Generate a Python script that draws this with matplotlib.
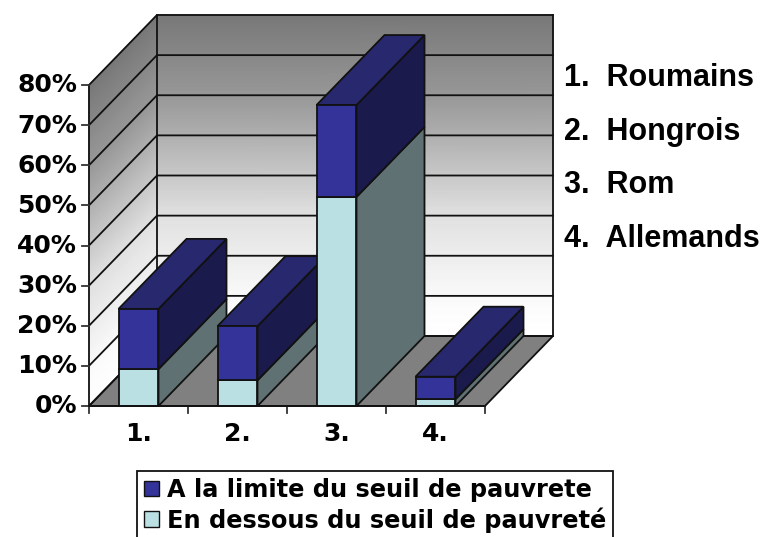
import matplotlib
matplotlib.use("Agg")
import matplotlib.pyplot as plt
import numpy as np
from matplotlib.patches import Polygon, Patch

categories = ["1.", "2.", "3.", "4."]
below_threshold = [9.2, 6.4, 52.1, 1.7]
at_threshold = [15.0, 13.5, 22.9, 5.6]
series_names = ["A la limite du seuil de pauvrete", "En dessous du seuil de pauvreté"]
side_labels = ["1.  Roumains", "2.  Hongrois", "3.  Rom", "4.  Allemands"]
percent_ticks = [0, 10, 20, 30, 40, 50, 60, 70, 80]
wall_stops = [0, 9, 30, 59, 80]
wall_grays = [1.0, 0.98, 0.88, 0.60, 0.47]

W, H = 763, 537
PX_CAT, PX_PCT = 99.0, 4.0125
X0, Y0 = 89.0, 406.0
DX, DY = 68 / PX_CAT, 70 / PX_PCT
BAR_W = 0.404

fig = plt.figure(figsize=(W / 100, H / 100), dpi=100, facecolor="white")
ax = fig.add_axes([0, 0, 1, 1])
ax.set_xlim(-X0 / PX_CAT, (W - X0) / PX_CAT)
ax.set_ylim((Y0 - H) / PX_PCT, Y0 / PX_PCT)
ax.axis("off")

BLACK = "#111111"
LW = 1.3


def poly(pts, fc="none", z=3, lw=LW):
    ax.add_patch(Polygon(pts, closed=True, fc=fc, ec=BLACK, lw=lw, zorder=z, joinstyle="miter"))


# Gradient walls
vv = np.linspace(0, 80, 81)
gg = np.interp(vv, wall_stops, wall_grays)
cmap = plt.get_cmap("gray")
n_cat = len(categories)
top = percent_ticks[-1]
XB = np.array([[DX, n_cat + DX]] * len(vv))
YB = np.column_stack([vv + DY, vv + DY])
ax.pcolormesh(XB, YB, np.column_stack([gg, gg]), cmap=cmap, vmin=0, vmax=1, shading="gouraud", zorder=1)
XL = np.array([[0, DX]] * len(vv))
YL = np.column_stack([vv, vv + DY])
ax.pcolormesh(XL, YL, np.column_stack([gg, gg]), cmap=cmap, vmin=0, vmax=1, shading="gouraud", zorder=1)

# Floor
poly([(0, 0), (n_cat, 0), (n_cat + DX, DY), (DX, DY)], fc="#808080", z=2)

# Gridlines
for t in percent_ticks:
    ax.plot([0, DX, n_cat + DX], [t, t + DY, t + DY], color=BLACK, lw=LW, zorder=2)
ax.plot([0, 0], [0, top], color=BLACK, lw=LW, zorder=2)
ax.plot([DX, DX], [DY, top + DY], color=BLACK, lw=LW, zorder=2)
ax.plot([n_cat + DX, n_cat + DX], [DY, top + DY], color=BLACK, lw=LW, zorder=2)
ax.plot([0, n_cat], [0, 0], color=BLACK, lw=LW, zorder=8)

# Bars
front_colors = ["#BBE0E3", "#333399"]
side_colors = ["#5F7173", "#1A1A4D"]
top_color = "#28286F"
for i in range(n_cat):
    x0 = i + 0.5 - BAR_W / 2
    x1 = x0 + BAR_W
    z = 4 + i * 0.1
    levels = [0, below_threshold[i], below_threshold[i] + at_threshold[i]]
    for s in range(2):
        a, b = levels[s], levels[s + 1]
        poly([(x1, a), (x1 + DX, a + DY), (x1 + DX, b + DY), (x1, b)], fc=side_colors[s], z=z)
    poly([(x0, levels[2]), (x1, levels[2]), (x1 + DX, levels[2] + DY), (x0 + DX, levels[2] + DY)], fc=top_color, z=z)
    for s in range(2):
        a, b = levels[s], levels[s + 1]
        poly([(x0, a), (x1, a), (x1, b), (x0, b)], fc=front_colors[s], z=z + 0.01)

# Ticks and labels
tick_px = 7
for t in percent_ticks:
    ax.plot([-tick_px / PX_CAT, 0], [t, t], color="#333333", lw=LW, zorder=2)
    ax.text(-12 / PX_CAT, t - 0.1, f"{t}%", ha="right", va="center", fontsize=18, fontweight="bold",
            family="DejaVu Sans", color="black")
for i in range(n_cat + 1):
    ax.plot([i, i], [0, -tick_px / PX_PCT], color="#333333", lw=LW, zorder=2)
for i, c in enumerate(categories):
    ax.text(i + 0.5, -7, c, ha="center", va="center", fontsize=18, fontweight="bold",
            family="DejaVu Sans", color="black")

# Side labels
for lab, py in zip(side_labels, [78, 132, 185, 239]):
    ax.text((564 - X0) / PX_CAT, (Y0 - py) / PX_PCT, lab, ha="left", va="center", fontsize=22,
            fontweight="bold", family="Liberation Sans", color="black")

# Legend
handles = [Patch(fc="#333399", ec=BLACK, lw=1), Patch(fc="#BBE0E3", ec=BLACK, lw=1)]
leg = ax.legend(handles, series_names, loc="upper left",
                bbox_to_anchor=(137 / W, 1 - 471 / H), bbox_transform=fig.transFigure,
                prop={"family": "DejaVu Sans", "weight": "bold", "size": 17.3},
                fancybox=False, framealpha=1, edgecolor=BLACK,
                borderaxespad=0, borderpad=0.3, handlelength=0.6, handleheight=0.6,
                handletextpad=0.35, labelspacing=0.2)
leg.get_frame().set_linewidth(1.3)
leg.set_zorder(10)

fig.savefig("out.png", dpi=100)
